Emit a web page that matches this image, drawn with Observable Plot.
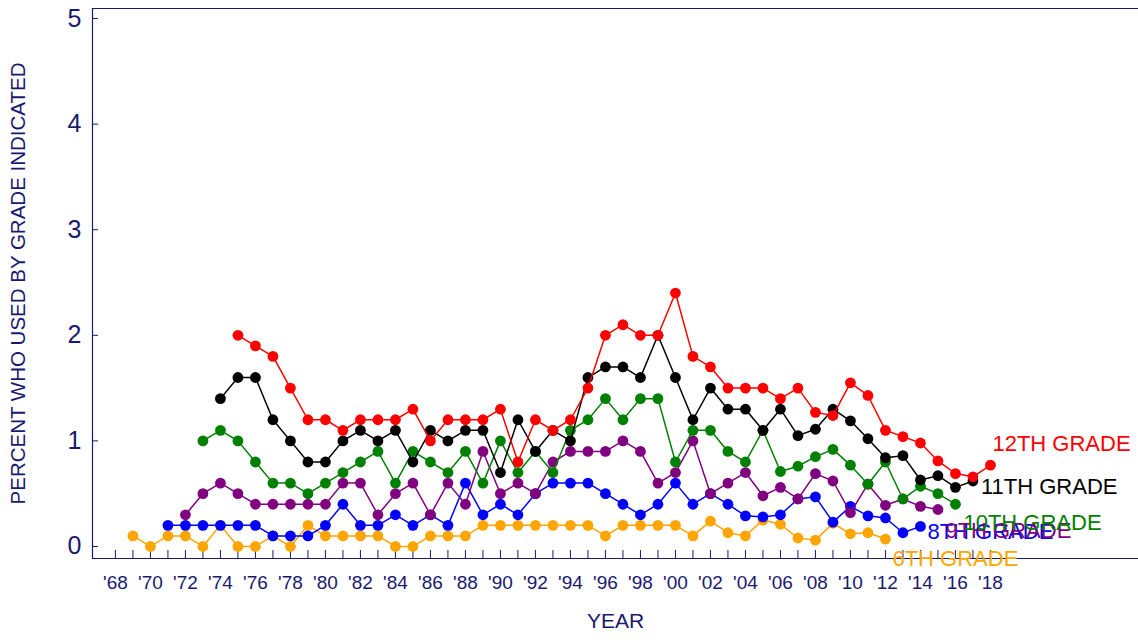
<!DOCTYPE html>
<html><head><meta charset="utf-8">
<script src="https://cdn.jsdelivr.net/npm/d3@7"></script>
<script src="https://cdn.jsdelivr.net/npm/@observablehq/plot@0.6"></script>
<style>
html,body{margin:0;padding:0;background:#fff;}
#chart svg{display:block;}
</style></head><body><div id="chart"></div>
<script>
// ---- data ----
const grades = ["6TH GRADE", "8TH GRADE", "9TH GRADE", "10TH GRADE", "11TH GRADE", "12TH GRADE"];
const startYears = [1969, 1971, 1972, 1973, 1974, 1975];
const grade6 = [0.1,0.0,0.1,0.1,0.0,0.2,0.0,0.0,0.1,0.0, 0.2,0.1,0.1,0.1,0.1,0.0,0.0,0.1,0.1,0.1,
  0.2,0.2,0.2,0.2,0.2,0.2,0.2,0.1,0.2,0.2, 0.2,0.2,0.1,0.24,0.13,0.1,0.25,0.21,0.08,0.06, 0.22,0.12,0.13,0.07];
const grade8 = [0.2,0.2,0.2,0.2,0.2,0.2,0.1,0.1,0.1,0.2, 0.4,0.2,0.2,0.3,0.2,0.3,0.2,0.6,0.3,0.4,
  0.3,0.5,0.6,0.6,0.6,0.5,0.4,0.3,0.4,0.6, 0.4,0.5,0.4,0.29,0.28,0.30,0.45,0.47,0.23,0.38, 0.29,0.27,0.13,0.19];
const grade9 = [0.3,0.5,0.6,0.5,0.4,0.4,0.4,0.4,0.4,0.6, 0.6,0.3,0.5,0.6,0.3,0.6,0.4,0.9,0.5,0.6,
  0.5,0.8,0.9,0.9,0.9,1.0,0.9,0.6,0.7,1.0, 0.5,0.6,0.7,0.48,0.56,0.45,0.69,0.62,0.32,0.59, 0.39,0.45,0.38,0.35];
const grade10 = [1.0,1.1,1.0,0.8,0.6,0.6,0.5,0.6,0.7,0.8, 0.9,0.6,0.9,0.8,0.7,0.9,0.6,1.0,0.7,0.9,
  0.7,1.1,1.2,1.4,1.2,1.4,1.4,0.8,1.1,1.1, 0.9,0.8,1.1,0.71,0.76,0.85,0.92,0.77,0.59,0.80, 0.45,0.57,0.50,0.40];
const grade11 = [1.4,1.6,1.6,1.2,1.0,0.8,0.8,1.0,1.1,1.0, 1.1,0.8,1.1,1.0,1.1,1.1,0.7,1.2,0.9,1.1,
  1.0,1.6,1.7,1.7,1.6,2.0,1.6,1.2,1.5,1.3, 1.3,1.1,1.3,1.05,1.11,1.30,1.19,1.02,0.84,0.86, 0.63,0.67,0.56,0.62];
const grade12 = [2.0,1.9,1.8,1.5,1.2,1.2,1.1,1.2,1.2,1.2, 1.3,1.0,1.2,1.2,1.2,1.3,0.8,1.2,1.1,1.2,
  1.5,2.0,2.1,2.0,2.0,2.4,1.8,1.7,1.5,1.5, 1.5,1.4,1.5,1.27,1.24,1.55,1.43,1.1,1.04,0.98, 0.81,0.69,0.66,0.77];
const seriesValues = [grade6, grade8, grade9, grade10, grade11, grade12];
const tickYears = d3.range(1968, 2019);
const labelYears = d3.range(1968, 2019, 2);
const yTicks = [0, 1, 2, 3, 4, 5];
const xTitle = "YEAR";
const yTitle = "PERCENT WHO USED BY GRADE INDICATED";

// ---- styles ----
const navy = "#191970";
const colors = ["#ffa500", "#0000ff", "#800080", "#008000", "#000000", "#ff0000"];
const labelDx = [7, 7, 7.5, 8, 8, 2];
const labelDy = [19.5, 6, 21, 19, 5.5, -21];
const xDomain = [1966.69, 2026.46];
const yDomain = [-0.114, 5.095];

const marks = [
  Plot.ruleY([yDomain[0], yDomain[1]], {stroke: navy, strokeWidth: 1.2}),
  Plot.ruleX([xDomain[0]], {stroke: navy, strokeWidth: 1.2}),
  Plot.axisX(tickYears, {anchor: "bottom", tickSize: -8, tickFormat: () => "", color: navy, label: null}),
  Plot.axisX(labelYears, {anchor: "bottom", tickSize: 0, tickPadding: 17, fontSize: 19, color: navy, label: null,
    tickFormat: d => "'" + String(d % 100).padStart(2, "0")}),
  Plot.axisY(yTicks, {anchor: "left", tickSize: -6, tickFormat: () => "", color: navy, label: null}),
  Plot.axisY(yTicks, {anchor: "left", tickSize: 0, tickPadding: 11, fontSize: 25, color: navy, label: null,
    tickFormat: d => String(d)}),
  Plot.text([xTitle], {text: d => d, frameAnchor: "bottom", dy: 69, fontSize: 21, fill: navy}),
  Plot.text([yTitle], {text: d => d, frameAnchor: "left", textAnchor: "middle", dx: -74, rotate: -90,
    fontSize: 20.5, fill: navy})
];

seriesValues.forEach((vals, i) => {
  const data = vals.map((v, j) => ({year: startYears[i] + j, value: v}));
  marks.push(Plot.line(data, {x: "year", y: "value", stroke: colors[i], strokeWidth: 1.5}));
  marks.push(Plot.dot(data, {x: "year", y: "value", r: 5.4, fill: colors[i], stroke: "none"}));
  marks.push(Plot.text([data[data.length - 1]], {x: "year", y: "value", text: () => grades[i],
    dx: labelDx[i], dy: labelDy[i], textAnchor: "start", fill: colors[i], fontSize: 22}));
});

const chart = Plot.plot({
  width: 1138,
  height: 640,
  marginLeft: 92,
  marginRight: 0,
  marginTop: 8,
  marginBottom: 82,
  style: {fontFamily: "'Liberation Sans', Arial, sans-serif", color: navy, background: "#fff"},
  x: {domain: xDomain},
  y: {domain: yDomain},
  marks
});
document.getElementById("chart").appendChild(chart);
</script>
</body></html>
